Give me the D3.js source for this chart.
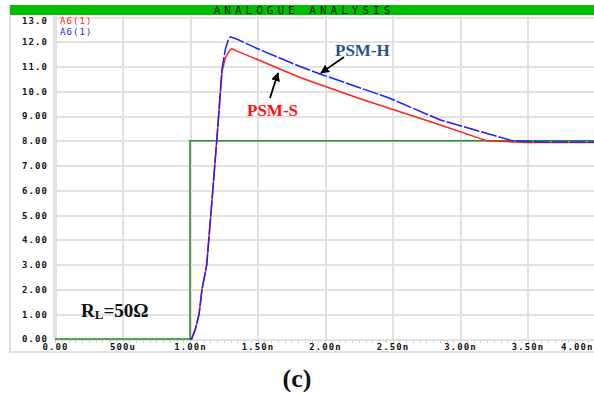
<!DOCTYPE html>
<html>
<head>
<meta charset="utf-8">
<script src="https://cdn.jsdelivr.net/npm/d3@7/dist/d3.min.js"></script>
<style>
  body { margin: 0; background: #fff; }
  svg { display: block; }
  .pix { font-family: 'DejaVu Sans Mono', monospace; font-weight: bold; font-size: 9px; letter-spacing: 1.1px; }
</style>
</head>
<body>
<div id="chart"></div>
<script>
'use strict';

// time in ns, voltage in V
const xTicks = [0, 0.5, 1, 1.5, 2, 2.5, 3, 3.5, 4];
const xTickLabels = ['0.00', '500u', '1.00n', '1.50n', '2.00n', '2.50n', '3.00n', '3.50n', '4.00n'];
const yTicks = [0, 1, 2, 3, 4, 5, 6, 7, 8, 9, 10, 11, 12, 13];
const yTickLabels = ['0.00', '1.00', '2.00', '3.00', '4.00', '5.00', '6.00', '7.00', '8.00', '9.00', '10.0', '11.0', '12.0', '13.0'];

const inputT = [0, 1.0, 1.0, 4.0];
const inputV = [0, 0, 8, 8];

const psmHT = [1.0, 1.012, 1.04, 1.067, 1.089, 1.124, 1.163, 1.198, 1.212, 1.237, 1.262, 1.285, 1.301, 1.35, 1.5, 1.815, 1.963, 2.48, 2.85, 3.39, 3.6, 4.0];
const psmHV = [0, 0, 0.4, 1.0, 2.0, 3.0, 5.6, 8.0, 9.0, 10.9, 11.7, 12.1, 12.2, 12.1, 11.72, 11.0, 10.7, 9.72, 8.85, 8.0, 7.95, 7.95];

const psmST = [1.0, 1.012, 1.04, 1.067, 1.089, 1.124, 1.163, 1.198, 1.212, 1.237, 1.262, 1.29, 1.309, 1.35, 1.64, 1.815, 2.26, 2.85, 3.2, 3.5, 4.0];
const psmSV = [0, 0, 0.4, 1.0, 2.0, 3.0, 5.6, 8.0, 9.0, 10.8, 11.35, 11.62, 11.72, 11.62, 10.96, 10.56, 9.70, 8.65, 8.0, 7.93, 7.93];

const legendNames = ['A6(1)', 'A6(1)'];

const settings = { width: 594, height: 394, elId: '#chart' };
const plot = { left: 54, right: 594, top: 16, bottom: 339 };
const gridColor = '#e2e2e2';

const svg = d3.select(settings.elId)
    .append('svg')
    .attr('width', settings.width)
    .attr('height', settings.height);

const x = d3.scaleLinear().domain([0, 4]).range([55, 595]);
const y = d3.scaleLinear().domain([0, 13]).range([339, 17]);

// frame + title bar
svg.append('path')
    .attr('d', 'M10,4V352H600')
    .attr('fill', 'none')
    .attr('stroke', gridColor).attr('stroke-width', 2)
    .attr('shape-rendering', 'crispEdges');
svg.append('rect')
    .attr('x', 10).attr('y', 5)
    .attr('width', 590).attr('height', 10)
    .attr('fill', '#00bf00');
svg.append('text')
    .attr('class', 'pix')
    .attr('x', 304).attr('y', 14)
    .attr('text-anchor', 'middle')
    .style('font-weight', 'normal')
    .style('font-size', '11px')
    .style('letter-spacing', '4px')
    .attr('fill', '#062006')
    .text('ANALOGUE ANALYSIS');

const defs = svg.append('defs');
defs.append('clipPath').attr('id', 'clip')
    .append('rect')
    .attr('x', plot.left).attr('y', plot.top)
    .attr('width', plot.right - plot.left).attr('height', plot.bottom - plot.top + 2);

// grid, drawn with the axes' own tick lines
const gridX = svg.append('g')
    .attr('transform', `translate(0,${plot.bottom})`)
    .call(d3.axisBottom(x).tickValues(xTicks).tickSize(-(plot.bottom - plot.top)).tickFormat(''));
gridX.select('.domain').remove();
gridX.selectAll('line')
    .attr('stroke', gridColor).attr('stroke-width', 2)
    .attr('shape-rendering', 'crispEdges');

const gridY = svg.append('g')
    .attr('transform', `translate(${plot.left},0)`)
    .call(d3.axisLeft(y).tickValues(yTicks).tickSize(-(plot.right - plot.left)).tickFormat(''));
gridY.select('.domain').remove();
gridY.selectAll('line')
    .attr('stroke', gridColor).attr('stroke-width', 2)
    .attr('shape-rendering', 'crispEdges');

// left axis line
svg.append('line')
    .attr('x1', plot.left).attr('x2', plot.left)
    .attr('y1', plot.top).attr('y2', plot.bottom)
    .attr('stroke', gridColor).attr('stroke-width', 2)
    .attr('shape-rendering', 'crispEdges');

// minor ticks on x
svg.append('g').selectAll('line')
    .data(d3.range(0, 81).map(i => i * 0.05))
    .enter().append('line')
    .attr('x1', d => Math.round(x(d)) + 0.5).attr('x2', d => Math.round(x(d)) + 0.5)
    .attr('y1', plot.bottom + 1).attr('y2', plot.bottom + 4)
    .attr('stroke', '#cfcfcf')
    .attr('shape-rendering', 'crispEdges');

// tick labels
const xAxis = d3.axisBottom(x)
    .tickValues(xTicks)
    .tickSize(0)
    .tickPadding(4)
    .tickFormat((d, i) => xTickLabels[i]);
const gx = svg.append('g')
    .attr('transform', `translate(0,${plot.bottom + 1})`)
    .call(xAxis);
gx.select('.domain').remove();
gx.selectAll('text').attr('class', 'pix').attr('fill', '#111').attr('font-size', null).attr('font-family', null);
// last label sits at the right edge, pushed in like the original
gx.selectAll('.tick').filter(d => d === 4).select('text').attr('text-anchor', 'end').attr('dx', -2);

const yAxis = d3.axisLeft(y)
    .tickValues(yTicks)
    .tickSize(0)
    .tickPadding(6)
    .tickFormat((d, i) => yTickLabels[i]);
const gy = svg.append('g')
    .attr('transform', `translate(${plot.left},0)`)
    .call(yAxis);
gy.select('.domain').remove();
gy.selectAll('text').attr('class', 'pix').attr('fill', '#111').attr('font-size', null).attr('font-family', null);
gy.selectAll('.tick').filter(d => d === 13).attr('transform', `translate(0,${y(13) + 4})`);

// traces
const line = d3.line().x(d => x(d[0])).y(d => y(d[1]));
const traces = svg.append('g').attr('clip-path', 'url(#clip)');
traces.append('path')
    .datum(d3.zip(inputT, inputV))
    .attr('d', line)
    .attr('fill', 'none').attr('stroke', '#1f8f1f').attr('stroke-width', 1.5);
traces.append('path')
    .datum(d3.zip(psmST, psmSV))
    .attr('d', line)
    .attr('fill', 'none').attr('stroke', '#ff2222').attr('stroke-width', 1.5);
traces.append('path')
    .datum(d3.zip(psmHT, psmHV))
    .attr('d', line)
    .attr('fill', 'none').attr('stroke', '#1f1fff').attr('stroke-width', 1.5)
    .attr('stroke-dasharray', '16,2');

// legend
svg.selectAll('.leg').data(legendNames).enter()
    .append('text')
    .attr('class', 'pix')
    .style('font-weight', 'normal')
    .attr('x', 60).attr('y', (d, i) => 24 + i * 11)
    .attr('fill', (d, i) => i === 0 ? '#ff1a1a' : '#1a1aff')
    .text(d => d);

// annotations
defs.append('marker')
    .attr('id', 'arrow')
    .attr('viewBox', '0 0 10 10')
    .attr('refX', 9).attr('refY', 5)
    .attr('markerWidth', 5).attr('markerHeight', 5)
    .attr('orient', 'auto')
    .append('path').attr('d', 'M0,0L10,5L0,10Z').attr('fill', '#000');

svg.append('line')
    .attr('x1', 344).attr('y1', 57).attr('x2', 321).attr('y2', 73)
    .attr('stroke', '#000').attr('stroke-width', 1.8)
    .attr('marker-end', 'url(#arrow)');
svg.append('line')
    .attr('x1', 270).attr('y1', 98).attr('x2', 278).attr('y2', 73)
    .attr('stroke', '#000').attr('stroke-width', 1.8)
    .attr('marker-end', 'url(#arrow)');

svg.append('text')
    .attr('x', 335).attr('y', 56)
    .attr('font-family', "'Liberation Serif', serif").attr('font-weight', 'bold').attr('font-size', '17px')
    .attr('fill', '#2b5289')
    .text('PSM-H');
svg.append('text')
    .attr('x', 247).attr('y', 116)
    .attr('font-family', "'Liberation Serif', serif").attr('font-weight', 'bold').attr('font-size', '17px')
    .attr('fill', '#ff1010')
    .text('PSM-S');

const rl = svg.append('text')
    .attr('x', 81).attr('y', 317)
    .attr('font-family', "'Liberation Serif', serif").attr('font-weight', 'bold').attr('font-size', '19px')
    .attr('fill', '#111');
rl.append('tspan').text('R');
rl.append('tspan').attr('font-size', '13px').attr('dy', 2).text('L');
rl.append('tspan').attr('dy', -2).text('=50Ω');

svg.append('text')
    .attr('x', 297).attr('y', 387)
    .attr('text-anchor', 'middle')
    .attr('font-family', "'Liberation Serif', serif").attr('font-weight', 'bold').attr('font-size', '26px')
    .attr('fill', '#111')
    .text('(c)');
</script>
</body>
</html>
